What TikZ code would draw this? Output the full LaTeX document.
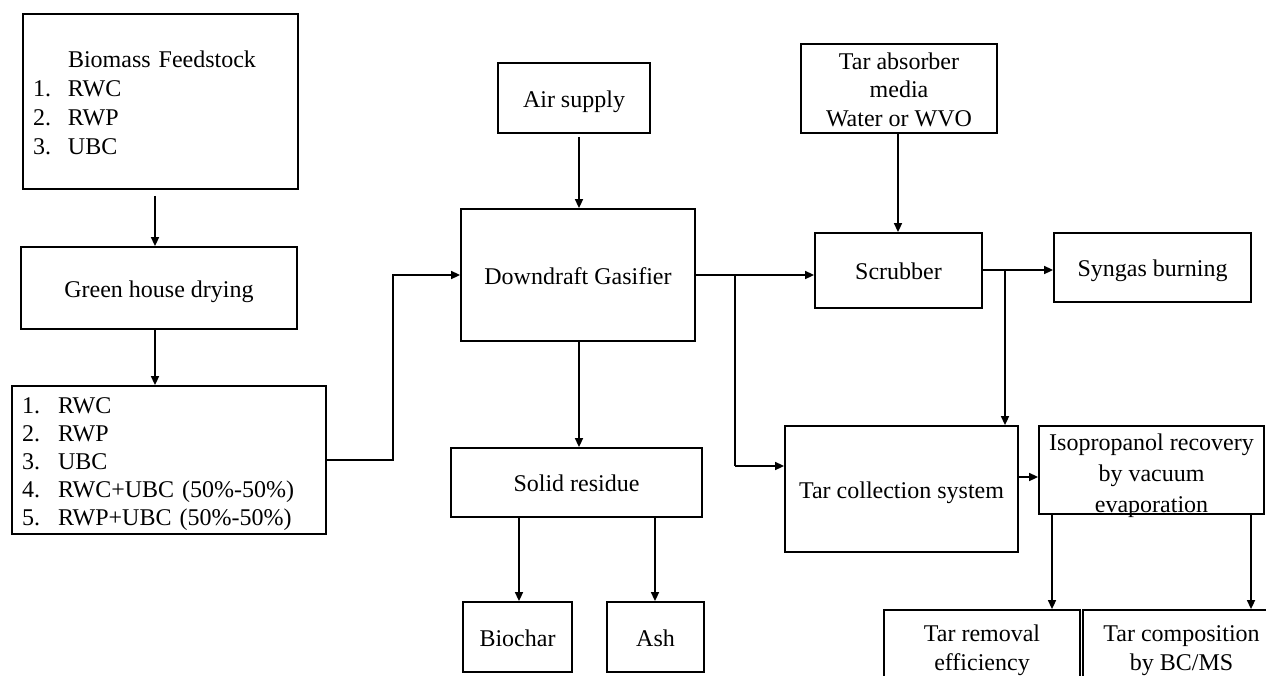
\documentclass[tikz,border=0pt]{standalone}
\usepackage{fontspec}
\setmainfont{Liberation Serif}
\usetikzlibrary{arrows.meta}
\begin{document}
\begin{tikzpicture}[x=1pt,y=-1pt,
  box/.style={draw, line width=1.8pt, inner sep=0pt, align=center, font=\fontsize{24}{29}\selectfont},
  tb/.style={text height=23.5pt, text depth=5pt},
  arr/.style={line width=1.6pt, -{Triangle[length=9pt,width=8pt]}},
  ln/.style={line width=1.6pt}]
\useasboundingbox (0,0) rectangle (1266,675);
\clip (0,0) rectangle (1266,675);

% left column
\node[box, minimum width=275pt, minimum height=175pt, text width=255pt, align=left] (bio) at (160.5,101.5)
  {\begin{tabular}{@{}p{35pt}@{}l@{}}\rule{0pt}{28.5pt} & Biomass Feedstock\\ 1. & RWC\\ 2. & RWP\\ 3. & UBC\end{tabular}};
\node[box, tb, minimum width=276pt, minimum height=82pt] (green) at (159,288) {Green house drying};
\node[box, minimum width=314pt, minimum height=146pt, text width=294pt, align=left,
  font=\fontsize{24}{28}\selectfont] (list) at (169,460)
  {\begin{tabular}{@{}p{36pt}@{}l@{}}\rule{0pt}{27.6pt}1. & RWC\\ 2. & RWP\\ 3. & UBC\\ 4. & RWC+UBC (50\%-50\%)\\ 5. & RWP+UBC (50\%-50\%)\end{tabular}};

% middle column
\node[box, tb, minimum width=152pt, minimum height=70pt] (air) at (574,98) {Air supply};
\node[box, tb, minimum width=234pt, minimum height=132pt] (gas) at (578,275) {Downdraft Gasifier};
\node[box, tb, minimum width=251pt, minimum height=69pt] (sr) at (576.5,482.5) {Solid residue};
\node[box, tb, minimum width=109pt, minimum height=70pt] (bc) at (517.5,637) {Biochar};
\node[box, tb, minimum width=97pt, minimum height=70pt] (ash) at (655.5,637) {Ash};

% right part
\node[box, minimum width=196pt, minimum height=89pt, font=\fontsize{24}{28.5}\selectfont] (tam) at (899,88.5)
  {\rule{0pt}{18.5pt}Tar absorber\\ media\\ Water or WVO};
\node[box, tb, minimum width=167pt, minimum height=75pt] (scrub) at (898.5,270.5) {Scrubber};
\node[box, tb, minimum width=197pt, minimum height=69pt] (syn) at (1152.5,267.5) {Syngas burning};
\node[box, tb, minimum width=233pt, minimum height=126pt] (tcs) at (901.5,489) {Tar collection system};
\node[box, minimum width=225pt, minimum height=88pt, font=\fontsize{24}{31}\selectfont] (iso) at (1151.5,470)
  {\rule{0pt}{22pt}Isopropanol recovery\\ by vacuum\\ \raisebox{0pt}[\height][0pt]{evaporation}};
\node[box, minimum width=196pt, minimum height=75pt] (tr) at (982,647.5) {\rule{0pt}{22.5pt}Tar removal\\ efficiency};
\node[box, minimum width=197pt, minimum height=75pt] (tc) at (1181.5,647.5) {\rule{0pt}{22.5pt}Tar composition\\ by BC/MS};

% connectors
\coordinate (c1) at (155,0);
\draw[arr, shorten <=6pt] (c1 |- bio.south) -- (c1 |- green.north);
\draw[arr] (c1 |- green.south) -- (c1 |- list.north);
\coordinate (c2) at (393,0);
\draw[arr] (list.east) -| (c2 |- gas.west) -- (gas.west);

\coordinate (c3) at (579,0);
\draw[arr, shorten <=3pt] (c3 |- air.south) -- (c3 |- gas.north);
\draw[arr] (c3 |- gas.south) -- (c3 |- sr.north);
\coordinate (c4) at (519,0);
\coordinate (c5) at (655,0);
\draw[arr] (c4 |- sr.south) -- (c4 |- bc.north);
\draw[arr] (c5 |- sr.south) -- (c5 |- ash.north);

\coordinate (j1) at (735,275);
\coordinate (j1b) at (735,466);
\draw[arr] (gas.east) -- (gas.east -| scrub.west);
\draw[ln] (j1) -- (j1b);
\draw[arr] (j1b) -- (j1b -| tcs.west);

\coordinate (c6) at (898,0);
\draw[arr] (c6 |- tam.south) -- (c6 |- scrub.north);
\coordinate (j2) at (1005,270);
\draw[arr] (scrub.east |- j2) -- (j2 -| syn.west);
\draw[arr] (j2) -- (j2 |- tcs.north);

\coordinate (c7) at (0,477);
\draw[arr] (c7 -| tcs.east) -- (c7 -| iso.west);
\coordinate (c8) at (1052,0);
\coordinate (c9) at (1251,0);
\draw[arr] (c8 |- iso.south) -- (c8 |- tr.north);
\draw[arr] (c9 |- iso.south) -- (c9 |- tc.north);
\end{tikzpicture}
\end{document}
